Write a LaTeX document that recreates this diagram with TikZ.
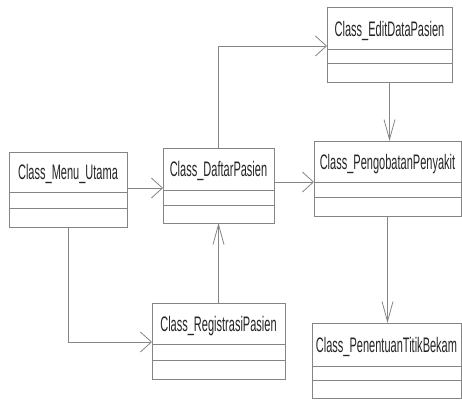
\documentclass[tikz,border=0pt]{standalone}
\usepackage{fontspec}
\newfontfamily\clsfont[FakeStretch=0.525]{Liberation Sans}
\usetikzlibrary{arrows.meta}
\definecolor{linegray}{HTML}{858585}
\tikzset{
  box/.style={draw=linegray, line width=0.8pt, fill=white, inner sep=0pt, outer sep=0pt, rectangle},
  sep/.style={draw=linegray, line width=0.8pt},
  ttl/.style={anchor=base, inner sep=0pt, font=\clsfont\fontsize{21}{25}\selectfont, text=black!85},
  conn/.style={draw=linegray, line width=0.8pt},
  arrh/.style={conn, -{Straight Barb[length=11pt,width=20pt,line width=0.8pt]}},
  arrv/.style={conn, -{Straight Barb[length=20pt,width=11pt,line width=0.8pt]}}
}
\begin{document}
\begin{tikzpicture}[x=1pt,y=-1pt]
\useasboundingbox (0,0) rectangle (462,400);
% boxes
\node[box, minimum width=118pt, minimum height=75pt] (menu) at (68,189.5) {};
\node[box, minimum width=111pt, minimum height=75pt] (daftar) at (218.5,185.5) {};
\node[box, minimum width=125pt, minimum height=75pt] (edit) at (389.5,44.5) {};
\node[box, minimum width=147pt, minimum height=75pt] (pengobatan) at (387.5,178.5) {};
\node[box, minimum width=149pt, minimum height=75pt] (penentuan) at (386.5,360.5) {};
\node[box, minimum width=133pt, minimum height=76pt] (registrasi) at (218.5,341) {};
% compartments
\draw[sep] (9,192) -- (127,192) (9,208) -- (127,208);
\draw[sep] (163,190) -- (274,190) (163,205) -- (274,205);
\draw[sep] (327,49) -- (452,49) (327,63) -- (452,63);
\draw[sep] (314,182) -- (461,182) (314,197) -- (461,197);
\draw[sep] (312,366) -- (461,366) (312,380) -- (461,380);
\draw[sep] (152,344) -- (285,344) (152,360) -- (285,360);
% titles
\node[ttl] (menu-t) at (68,179.5) {Class\_Menu\_Utama};
\node[ttl] (daftar-t) at (218.5,176.5) {Class\_DaftarPasien};
\node[ttl] (edit-t) at (389.5,36) {Class\_EditDataPasien};
\node[ttl] (pengobatan-t) at (387.5,169) {Class\_PengobatanPenyakit};
\node[ttl] (penentuan-t) at (386.5,352) {Class\_PenentuanTitikBekam};
\node[ttl] (registrasi-t) at (218.5,331) {Class\_RegistrasiPasien};
% helper rows
\coordinate (y188) at (0,188);
\coordinate (y182) at (0,182);
\coordinate (y46) at (0,46);
\coordinate (y342) at (0,342);
% connectors
\draw[arrh] (menu.east |- y188) -- (daftar.west |- y188);
\draw[arrh] (daftar.east |- y182) -- (pengobatan.west |- y182);
\draw[arrh] (daftar.north) |- (edit.west |- y46);
\draw[arrv] (edit.south) -- (edit.south |- pengobatan.north);
\draw[arrv] (pengobatan.south) -- (pengobatan.south |- penentuan.north);
\draw[arrv] (registrasi.north) -- (registrasi.north |- daftar.south);
\draw[arrh] (menu.south) |- (registrasi.west |- y342);
\end{tikzpicture}
\end{document}
